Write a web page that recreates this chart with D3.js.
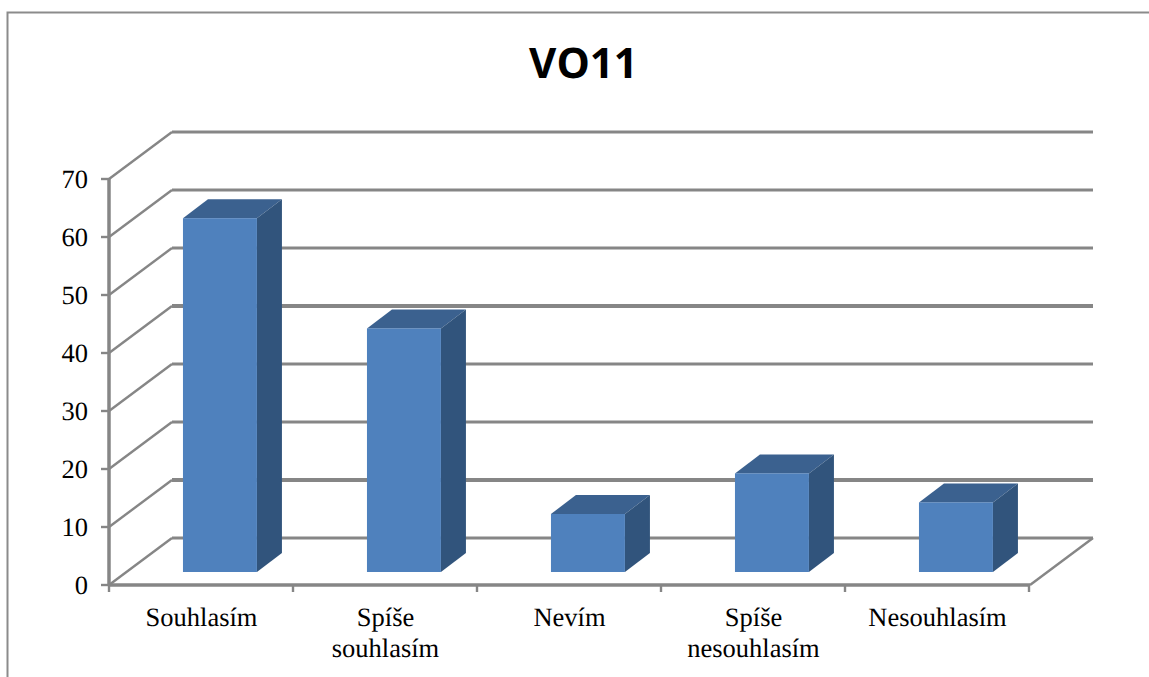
<!DOCTYPE html>
<html>
<head>
<meta charset="utf-8">
<script src="https://cdn.jsdelivr.net/npm/d3@7"></script>
<style>
html,body{margin:0;padding:0;background:#fff;overflow:hidden}
svg{display:block}
text{text-rendering:geometricPrecision}
</style>
</head>
<body>
<svg id="chart" width="1149" height="677"></svg>
<script>
const categories = [["Souhlasím"],["Spíše","souhlasím"],["Nevím"],["Spíše","nesouhlasím"],["Nesouhlasím"]];
const values = [61,42,10,17,12];
const ticks = [0,10,20,30,40,50,60,70];
const heavyGrid = [10,40];   // these two levels land on a doubled pixel row
const chartTitle = "VO11";

const svg = d3.select("#chart");
const gridColor = "#868686";

const x = d3.scaleBand().domain(d3.range(categories.length)).range([109,1029]);
const y = d3.scaleLinear().domain([0,70]).range([585,179]);
const depth = {x:63, y:-47};
const barDepth = {x:25, y:-19};
const barLift = -13;   // bars stand partway back on the floor
const barW = x.bandwidth()*0.402;

// outer frame, clipped by the page on the right and bottom
svg.append("path")
  .attr("d", d3.line()([[7.5,677],[7.5,12.5],[1149,12.5]]))
  .attr("fill","none").attr("stroke","#8b8b8b").attr("stroke-width",2);

svg.append("text").attr("x",583.5).attr("y",78)
  .attr("text-anchor","middle")
  .attr("font-family","'Open Sans',sans-serif").attr("font-weight",700)
  .attr("font-size",42).attr("fill","#000").text(chartTitle);

// back wall grid and the slanted side-wall lines
const grid = svg.append("g").attr("fill","none").attr("stroke",gridColor);
ticks.forEach(t=>{
  const y0=y(t);
  grid.append("path")
    .attr("stroke-width",2.4)
    .attr("d",d3.line()([[109,y0],[109+depth.x,y0+depth.y]]));
  grid.append("path")
    .attr("stroke-width",heavyGrid.includes(t)?4:3)
    .attr("d",d3.line()([[109+depth.x,y0+depth.y],[1029+depth.x+1,y0+depth.y]]));
});
// right edge of the floor
grid.append("path").attr("stroke-width",2.4)
  .attr("d",d3.line()([[1030,y(0)],[1030+depth.x,y(0)+depth.y]]));

// axes
const axes = svg.append("g").attr("stroke",gridColor).attr("fill","none");
axes.append("path").attr("stroke-width",3.5)
  .attr("d",d3.line()([[109,y(70)],[109,y(0)]]));
axes.append("path").attr("stroke-width",3.5)
  .attr("d",d3.line()([[109,y(0)],[1030,y(0)]]));
ticks.forEach(t=>axes.append("path").attr("stroke-width",2.4)
  .attr("d",d3.line()([[101,y(t)],[109,y(t)]])));
d3.range(categories.length+1).forEach(i=>{
  const px = i<categories.length ? x(i) : x.range()[1];
  axes.append("path").attr("stroke-width",2.4)
    .attr("d",d3.line()([[px,y(0)],[px,y(0)+7]]));
});

// y tick labels
svg.append("g").selectAll("text").data(ticks).join("text")
  .attr("x",88).attr("y",d=>y(d)+9)
  .attr("text-anchor","end")
  .attr("font-family","'Liberation Serif',serif").attr("font-size",26.5)
  .attr("fill","#000").text(d=>d);

// category labels
const labels = svg.append("g").selectAll("text").data(categories).join("text")
  .attr("font-family","'Liberation Serif',serif").attr("font-size",26.5)
  .attr("text-anchor","middle").attr("fill","#000");
labels.each(function(lines,i){
  lines.forEach((l,k)=>d3.select(this).append("tspan")
    .attr("x",x(i)+x.bandwidth()/2+0.5).attr("y",626+k*31).text(l));
});

// 3-D columns: front, top and side faces
const bars = svg.append("g").selectAll("g").data(values).join("g");
const left = (d,i)=>x(i)+barW;
const base = y(0)+barLift;
const top_ = d=>y(d)+barLift;
const poly = pts=>d3.line()(pts)+"Z";
bars.append("path").attr("fill","#3b618f")
  .attr("d",(d,i)=>{const l=left(d,i),t=top_(d);
    return poly([[l,t],[l+barDepth.x,t+barDepth.y],[l+barW+barDepth.x,t+barDepth.y],[l+barW,t]]);});
bars.append("path").attr("fill","#31547c")
  .attr("d",(d,i)=>{const r=left(d,i)+barW,t=top_(d);
    return poly([[r,t],[r+barDepth.x,t+barDepth.y],[r+barDepth.x,base+barDepth.y],[r,base]]);});
bars.append("rect").attr("fill","#4f81bd")
  .attr("x",left).attr("y",d=>top_(d)).attr("width",barW).attr("height",d=>base-top_(d));
</script>
</body>
</html>
